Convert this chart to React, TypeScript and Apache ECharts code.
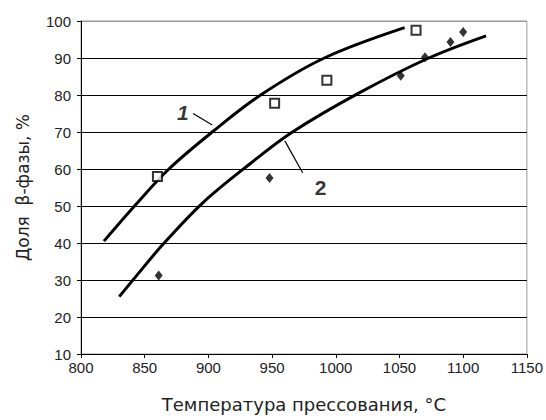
import React, { useEffect, useRef } from "react";
import * as echarts from "echarts";

const xTicks = [800, 850, 900, 950, 1000, 1050, 1100, 1150];
const yTicks = [10, 20, 30, 40, 50, 60, 70, 80, 90, 100];

// measured points (squares, series 1)
const points1: [number, number][] = [
  [860, 58],
  [952, 77.8],
  [993, 84],
  [1063, 97.5],
];
// measured points (diamonds, series 2)
const points2: [number, number][] = [
  [861, 31.2],
  [948, 57.6],
  [1051, 85.2],
  [1070, 90.2],
  [1090, 94.3],
  [1100, 97],
];
// fitted curve 1
const curve1: [number, number][] = [
  [818, 40.5],
  [842, 50],
  [869, 60],
  [903, 70],
  [941, 80],
  [991, 90],
  [1054, 98.2],
];
// fitted curve 2
const curve2: [number, number][] = [
  [830, 25.5],
  [842, 30.5],
  [864, 39.5],
  [896, 51],
  [933, 61.5],
  [966, 70],
  [1018, 80.5],
  [1073, 90],
  [1118, 96],
];
// curve labels and leader lines
const label1: [number, number] = [880, 75.3];
const label2: [number, number] = [988, 55];
const leader1: [number, number][] = [
  [888, 75],
  [903, 71.9],
];
const leader2: [number, number][] = [
  [960, 67.6],
  [974, 59],
];

const xName = "Температура прессования, °C";
const yName = "Доля  β-фазы, %";

const FONT = "'Liberation Sans', Arial, sans-serif";
const WIDE = "'DejaVu Sans', sans-serif";

export default function App() {
  const ref = useRef<HTMLDivElement>(null);
  useEffect(() => {
    document.body.style.margin = "0";
    const chart = echarts.init(ref.current!, null, { renderer: "svg" });
    const splitColors = yTicks.map((v) => (v === 100 ? "#9a9a9a" : "#000"));
    chart.setOption({
      animation: false,
      backgroundColor: "#fff",
      grid: {
        left: 81,
        right: 17,
        top: 21,
        bottom: 66,
        show: true,
        borderColor: "#9a9a9a",
        borderWidth: 1,
        backgroundColor: "transparent",
      },
      xAxis: {
        type: "value",
        min: xTicks[0],
        max: xTicks[xTicks.length - 1],
        interval: 50,
        name: xName,
        nameLocation: "middle",
        nameGap: 41,
        nameTextStyle: { fontFamily: WIDE, fontSize: 18, color: "#222" },
        axisLine: { show: true, lineStyle: { color: "#000", width: 1 } },
        axisTick: { show: true, length: 4, lineStyle: { color: "#000" } },
        axisLabel: {
          fontFamily: FONT,
          fontSize: 15,
          color: "#222",
          margin: 6,
          formatter: (v: number) => String(v),
        },
        splitLine: { show: false },
      },
      yAxis: {
        type: "value",
        min: yTicks[0],
        max: yTicks[yTicks.length - 1],
        interval: 10,
        name: yName,
        nameLocation: "middle",
        nameGap: 50,
        nameTextStyle: { fontFamily: WIDE, fontSize: 17, color: "#222" },
        axisLine: { show: true, lineStyle: { color: "#000", width: 1 } },
        axisTick: { show: true, length: 4, lineStyle: { color: "#000" } },
        axisLabel: {
          fontFamily: FONT,
          fontSize: 15,
          color: "#222",
          margin: 10,
          formatter: (v: number) => String(v),
        },
        splitLine: { show: true, lineStyle: { color: splitColors, width: 1 } },
      },
      series: [
        {
          type: "line",
          data: curve1,
          smooth: 0.35,
          showSymbol: false,
          lineStyle: { color: "#000", width: 3 },
          z: 3,
        },
        {
          type: "line",
          data: curve2,
          smooth: 0.35,
          showSymbol: false,
          lineStyle: { color: "#000", width: 3 },
          z: 3,
        },
        {
          type: "line",
          data: leader1,
          showSymbol: false,
          lineStyle: { color: "#000", width: 1.2 },
          z: 3,
        },
        {
          type: "line",
          data: leader2,
          showSymbol: false,
          lineStyle: { color: "#000", width: 1.2 },
          z: 3,
        },
        {
          type: "scatter",
          data: points1,
          symbol: "rect",
          symbolSize: 9,
          itemStyle: { color: "#fff", borderColor: "#000", borderWidth: 2 },
          z: 5,
        },
        {
          type: "scatter",
          data: points2,
          symbol: "diamond",
          symbolSize: [8, 10],
          itemStyle: { color: "#000" },
          z: 5,
        },
        {
          type: "scatter",
          data: [label1],
          symbolSize: 1,
          itemStyle: { color: "rgba(0,0,0,0)" },
          label: {
            show: true,
            position: "inside",
            formatter: "1",
            fontFamily: FONT,
            fontSize: 21,
            fontWeight: "bold",
            fontStyle: "italic",
            color: "#000",
          },
          z: 6,
        },
        {
          type: "scatter",
          data: [label2],
          symbolSize: 1,
          itemStyle: { color: "rgba(0,0,0,0)" },
          label: {
            show: true,
            position: "inside",
            formatter: "2",
            fontFamily: FONT,
            fontSize: 21,
            fontWeight: "bold",
            color: "#000",
          },
          z: 6,
        },
      ],
    });
    return () => chart.dispose();
  }, []);
  return (
    <div
      ref={ref}
      style={{ position: "absolute", left: 0, top: 0, width: 546, height: 420 }}
    />
  );
}
